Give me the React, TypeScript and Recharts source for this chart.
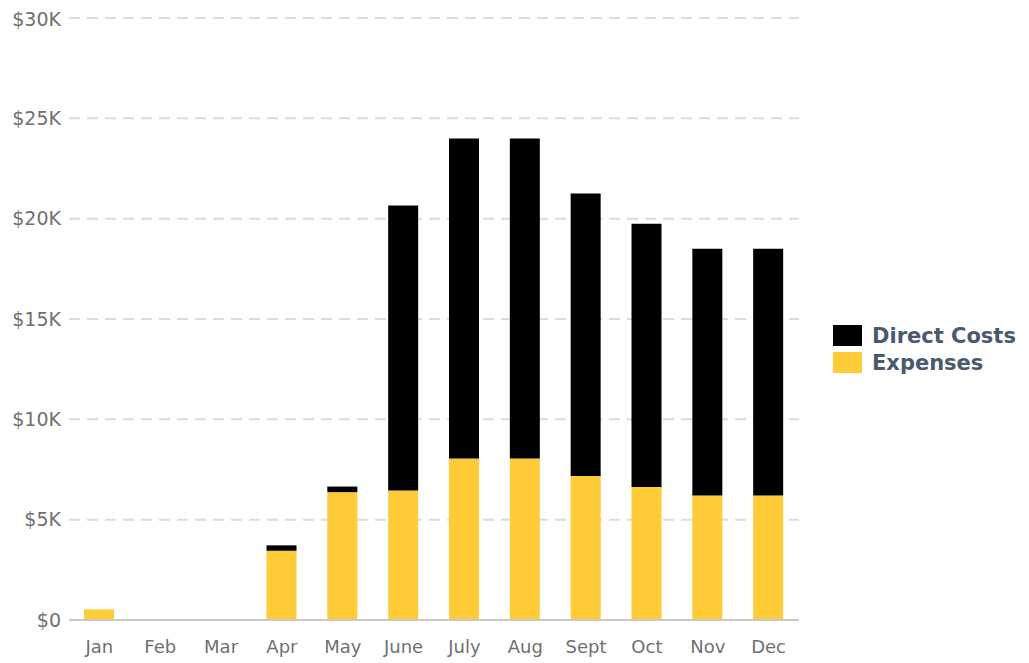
import { BarChart, Bar, XAxis, YAxis, CartesianGrid } from 'recharts';

const months = ['Jan', 'Feb', 'Mar', 'Apr', 'May', 'June', 'July', 'Aug', 'Sept', 'Oct', 'Nov', 'Dec'];
const expenses = [530, 0, 0, 3450, 6370, 6450, 8050, 8050, 7170, 6630, 6200, 6200];
const directCosts = [0, 0, 0, 270, 280, 14200, 15950, 15950, 14080, 13120, 12300, 12300];
const yTicks = [0, 5000, 10000, 15000, 20000, 25000, 30000];

const data = months.map((m, i) => ({ month: m, expenses: expenses[i], directCosts: directCosts[i] }));

const FONT = '"DejaVu Sans", Verdana, sans-serif';
const YELLOW = '#ffcb37';

const legendItems = [
  { label: 'Direct Costs', color: '#000000' },
  { label: 'Expenses', color: YELLOW },
];

function ChartLegend() {
  return (
    <div style={{ position: 'absolute', left: 825, top: 314, fontFamily: FONT }}>
      {legendItems.map((it) => (
        <div key={it.label} style={{ display: 'flex', alignItems: 'center', height: 27 }}>
          <span style={{ width: 29, height: 21, background: it.color, display: 'inline-block' }} />
          <span style={{ marginLeft: 10, fontSize: 21, fontWeight: 700, color: '#4a5a6d', whiteSpace: 'nowrap' }}>
            {it.label}
          </span>
        </div>
      ))}
    </div>
  );
}

export default function App() {
  return (
    <div style={{ position: 'relative', width: 1013, height: 655 }}>
      <BarChart
        width={1013}
        height={655}
        data={data}
        margin={{ top: 10, right: 222, left: 0, bottom: 13 }}
        style={{ overflow: 'visible' }}
      >
        <CartesianGrid vertical={false} stroke="#dcdcdc" strokeWidth={2} strokeDasharray="11 7" />
        <XAxis
          dataKey="month"
          tickLine={false}
          axisLine={{ stroke: '#c8c8c8', strokeWidth: 2 }}
          tick={{ fill: '#707070', fontSize: 18, fontFamily: FONT }}
          tickMargin={14}
          height={30}
        />
        <YAxis
          width={61}
          domain={[0, 30000]}
          ticks={yTicks}
          tickLine={false}
          axisLine={false}
          tick={{ fill: '#707070', fontSize: 19, fontFamily: FONT }}
          tickFormatter={(v: number) => (v === 0 ? '$0' : `$${v / 1000}K`)}
        />
        <Bar dataKey="expenses" stackId="a" fill={YELLOW} barSize={30} isAnimationActive={false} />
        <Bar dataKey="directCosts" stackId="a" fill="#000000" barSize={30} isAnimationActive={false} />
      </BarChart>
      <ChartLegend />
    </div>
  );
}
